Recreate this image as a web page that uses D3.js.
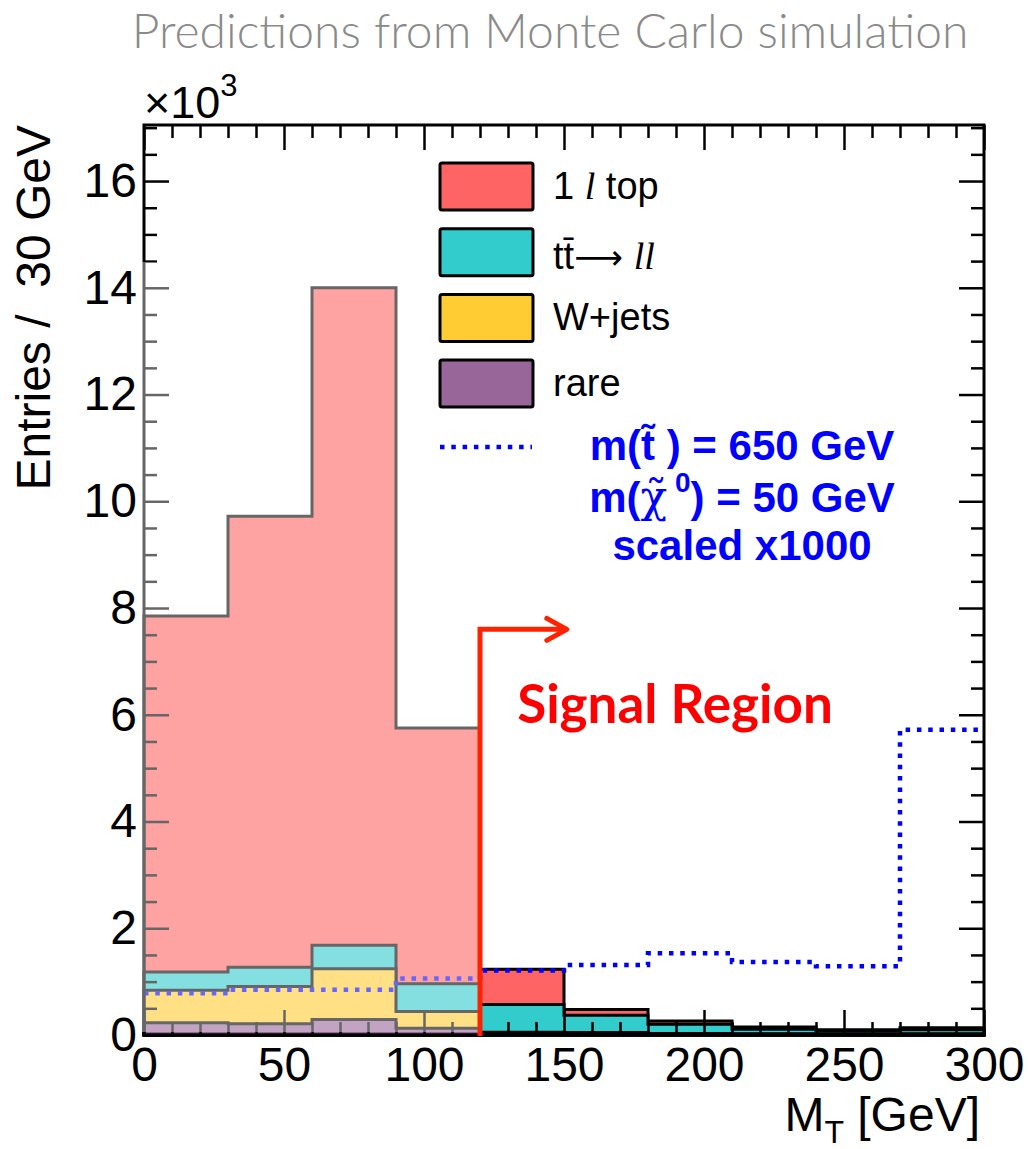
<!DOCTYPE html>
<html>
<head>
<meta charset="utf-8">
<script src="https://cdn.jsdelivr.net/npm/d3@7"></script>
<style>
  body { margin: 0; background: #fff; }
</style>
</head>
<body>
<div id="chart"></div>
<script>
// bins of 30 GeV in M_T
const binLow = [0, 30, 60, 90, 120, 150, 180, 210, 240, 270];
const binWidth = 30;

// background components (entries per bin), bottom of the stack first
const rare  = [230, 210, 290, 125, 30, 30, 20, 15, 15, 15];
const wjets = [610, 700, 950, 315, 20, 15, 10, 10, 10, 10];
const ttll  = [340, 360, 440, 520, 520, 325, 170, 85, 55, 75];
const top1l = [6670, 8450, 12320, 4790, 660, 110, 60, 40, 20, 35];

// signal m(stop)=650, m(chi0)=50, scaled x1000
const signal = [780, 850, 850, 1060, 1210, 1310, 1530, 1370, 1290, 5720];

const xMajor = [0, 50, 100, 150, 200, 250, 300];
const yMajor = [0, 2000, 4000, 6000, 8000, 10000, 12000, 14000, 16000];

const legendNames = ["1 l top", "tt\u0304\u2192 ll", "W+jets", "rare"];
const colors = ["#FF6464", "#33CCCC", "#FFCC33", "#996699"];

const signalCut = 120;   // start of signal region (GeV)
const arrowY = 7600;     // height of the signal region arrow
const arrowEnd = 151;

var width = 1028, height = 1149;
var plot = { left: 144, right: 984, top: 125, bottom: 1035 };

var svg = d3.select("#chart").append("svg")
  .attr("width", width)
  .attr("height", height)
  .style("font-family", "'Liberation Sans', Arial, sans-serif");

var x = d3.scaleLinear().domain([0, 300]).range([plot.left, plot.right]);
var y = d3.scaleLinear().domain([0, 17050]).range([plot.bottom, plot.top]);

// step points with closing edge at 300
function stepPoints(vals) {
  var pts = binLow.map(function (b, i) { return { x: b, v: vals[i] }; });
  pts.push({ x: binLow[binLow.length - 1] + binWidth, v: vals[vals.length - 1] });
  return pts;
}

// cumulative stack, drawn like ROOT THStack (largest first)
var comps = [rare, wjets, ttll, top1l];
var compColors = ["#996699", "#FFCC33", "#33CCCC", "#FF6464"];
var cum = [];
comps.forEach(function (c, k) {
  cum.push(c.map(function (v, i) { return v + (k > 0 ? cum[k - 1][i] : 0); }));
});

var area = d3.area()
  .curve(d3.curveStepAfter)
  .x(function (d) { return x(d.x); })
  .y0(y(0))
  .y1(function (d) { return y(d.v); });

for (var k = cum.length - 1; k >= 0; k--) {
  svg.append("path")
    .datum(stepPoints(cum[k]))
    .attr("fill", compColors[k])
    .attr("stroke", "#000")
    .attr("stroke-width", 3)
    .attr("stroke-linejoin", "miter")
    .attr("d", area);
}

// signal histogram, dotted
var line = d3.line()
  .curve(d3.curveStepAfter)
  .x(function (d) { return x(d.x); })
  .y(function (d) { return y(d.v); });

svg.append("path")
  .datum(stepPoints(signal))
  .attr("fill", "none")
  .attr("stroke", "#0000FF")
  .attr("stroke-width", 4.5)
  .attr("stroke-dasharray", "4.5,6.8")
  .attr("d", line);

// ticks on all four sides, pointing inwards
var xMinor = d3.range(0, 301, 10).filter(function (v) { return v % 50 != 0; });
var yMinor = d3.range(0, 17001, 500).filter(function (v) { return v % 2000 != 0; });

function tickGroup(axis, tx, ty) {
  var g = svg.append("g")
    .attr("transform", "translate(" + tx + "," + ty + ")")
    .call(axis);
  g.select(".domain").remove();
  g.selectAll("line").attr("stroke", "#000").attr("stroke-width", 2.5);
  return g;
}

tickGroup(d3.axisBottom(x).tickValues(xMinor).tickSize(-13).tickFormat(""), 0, plot.bottom);
tickGroup(d3.axisTop(x).tickValues(xMinor).tickSize(-13).tickFormat(""), 0, plot.top);
tickGroup(d3.axisTop(x).tickValues(xMajor).tickSize(-25).tickFormat(""), 0, plot.top);
tickGroup(d3.axisLeft(y).tickValues(yMinor).tickSize(-13).tickFormat(""), plot.left, 0);
tickGroup(d3.axisRight(y).tickValues(yMinor).tickSize(-13).tickFormat(""), plot.right, 0);
tickGroup(d3.axisRight(y).tickValues(yMajor).tickSize(-25).tickFormat(""), plot.right, 0);

var xAxis = tickGroup(d3.axisBottom(x).tickValues(xMajor).tickSizeInner(-25).tickSizeOuter(0)
  .tickPadding(12).tickFormat(d3.format("d")), 0, plot.bottom);
var yAxis = tickGroup(d3.axisLeft(y).tickValues(yMajor).tickSizeInner(-25).tickSizeOuter(0)
  .tickPadding(7).tickFormat(function (d) { return d / 1000; }), plot.left, 0);

[xAxis, yAxis].forEach(function (g) {
  g.attr("font-family", "'Liberation Sans', Arial, sans-serif").attr("font-size", 48);
  g.selectAll("text").attr("fill", "#000");
});

// frame
svg.append("rect")
  .attr("x", plot.left).attr("y", plot.top)
  .attr("width", plot.right - plot.left)
  .attr("height", plot.bottom - plot.top)
  .attr("fill", "none")
  .attr("stroke", "#000")
  .attr("stroke-width", 3);

// control region is faded out
svg.append("rect")
  .attr("x", plot.left - 3)
  .attr("y", 262)
  .attr("width", x(signalCut) - plot.left + 3)
  .attr("height", plot.bottom - 3 - 262)
  .attr("fill", "#fff")
  .attr("opacity", 0.4);

// signal region arrow
svg.append("path")
  .attr("d", "M" + x(signalCut) + "," + (plot.bottom + 1) +
    "V" + y(arrowY) + "H" + x(arrowEnd))
  .attr("fill", "none")
  .attr("stroke", "#FF2200")
  .attr("stroke-width", 5);
svg.append("path")
  .attr("d", "M" + (x(arrowEnd) - 20) + "," + (y(arrowY) - 11) +
    "L" + x(arrowEnd) + "," + y(arrowY) +
    "L" + (x(arrowEnd) - 20) + "," + (y(arrowY) + 11))
  .attr("fill", "none")
  .attr("stroke", "#FF2200")
  .attr("stroke-width", 5)
  .attr("stroke-linecap", "round")
  .attr("stroke-linejoin", "round");

svg.append("text")
  .attr("x", 675).attr("y", 723)
  .attr("text-anchor", "middle")
  .attr("font-family", "Lato, 'Open Sans', sans-serif")
  .attr("font-weight", "bold")
  .attr("font-size", 53)
  .attr("fill", "#FF0000")
  .text("Signal Region");

// title
svg.append("text")
  .attr("x", 550).attr("y", 48)
  .attr("text-anchor", "middle")
  .attr("font-family", "Lato, 'Open Sans', sans-serif")
  .attr("font-weight", 300)
  .attr("font-size", 48)
  .attr("fill", "#8a8a8a")
  .text("Predictions from Monte Carlo simulation");

// x10^3
var exp = svg.append("text")
  .attr("x", 144).attr("y", 118)
  .attr("font-size", 45)
  .text("\u00d710");
exp.append("tspan").attr("font-size", 31).attr("dy", -22).text("3");

// axis titles
svg.append("text")
  .attr("transform", "translate(50," + plot.top + ") rotate(-90)")
  .attr("text-anchor", "end")
  .attr("font-size", 48)
  .attr("xml:space", "preserve")
  .text("Entries /  30 GeV");

var xt = svg.append("text")
  .attr("x", 980).attr("y", 1131)
  .attr("text-anchor", "end")
  .attr("font-size", 48);
xt.append("tspan").text("M");
xt.append("tspan").attr("font-size", 32).attr("dy", 12).text("T");
xt.append("tspan").attr("dy", -12).text(" [GeV]");

// legend
var leg = svg.append("g").attr("transform", "translate(440,163)");
legendNames.forEach(function (name, i) {
  var gy = i * 65.7;
  leg.append("rect")
    .attr("x", 0).attr("y", gy)
    .attr("width", 93).attr("height", 47)
    .attr("rx", 2)
    .attr("fill", colors[i])
    .attr("stroke", "#000")
    .attr("stroke-width", 3);
  var t = leg.append("text")
    .attr("x", 113).attr("y", gy + 36 + (i == 1 ? 4 : 0))
    .attr("font-size", 38);
  if (i == 0) {
    t.append("tspan").text("1 ");
    t.append("tspan").attr("font-family", "'Liberation Serif', serif").attr("font-style", "italic").text("l");
    t.append("tspan").text(" top");
  } else if (i == 1) {
    t.append("tspan").text("tt\u0304");
    t.append("tspan").attr("font-family", "'DejaVu Sans', sans-serif").attr("font-size", 34).text("\u27f6 ");
    t.append("tspan").attr("font-family", "'Liberation Serif', serif").attr("font-style", "italic").text("ll");
  } else {
    t.text(name);
  }
});

leg.append("line")
  .attr("x1", 0).attr("x2", 92)
  .attr("y1", 284).attr("y2", 284)
  .attr("stroke", "#0000FF")
  .attr("stroke-width", 4.5)
  .attr("stroke-dasharray", "4.5,6.8");

var sigText = svg.append("g")
  .attr("font-weight", "bold")
  .attr("font-size", 42)
  .attr("fill", "#0000FF")
  .attr("text-anchor", "middle");
sigText.append("text").attr("x", 742).attr("y", 460).text("m(t\u0303 ) = 650 GeV");
var l2 = sigText.append("text").attr("x", 742).attr("y", 512);
l2.append("tspan").text("m(");
l2.append("tspan").attr("font-weight", "normal").attr("font-family", "'DejaVu Serif', serif").attr("font-size", 44).text("\u03c7\u0303");
l2.append("tspan").attr("font-size", 28).attr("dy", -20).text(" 0");
l2.append("tspan").attr("dy", 20).text(") = 50 GeV");
sigText.append("text").attr("x", 742).attr("y", 560).text("scaled x1000");
</script>
</body>
</html>
